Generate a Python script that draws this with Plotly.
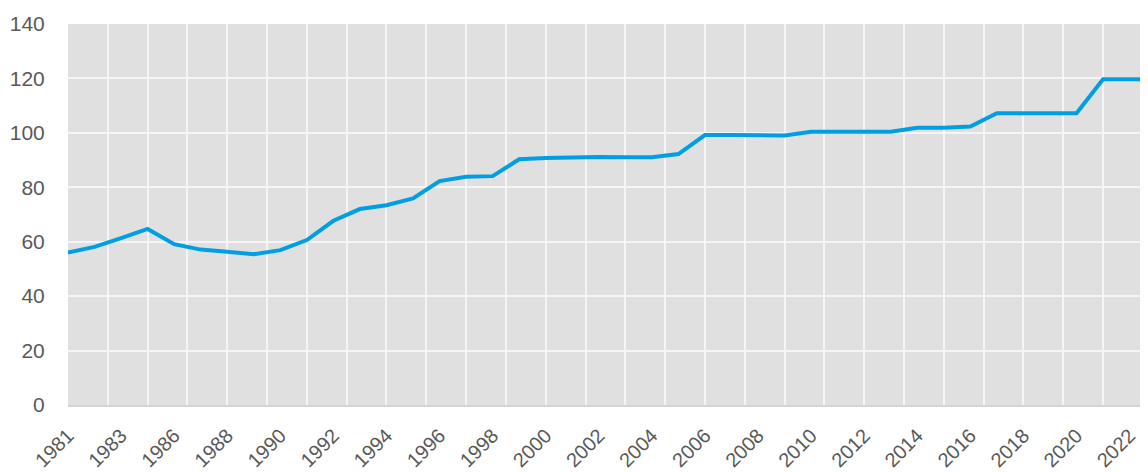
import plotly.graph_objects as go

years = ["1981", "1982", "1983", "1985", "1986", "1987", "1988", "1989", "1990",
         "1991", "1992", "1993", "1994", "1995", "1996", "1997", "1998", "1999",
         "2000", "2001", "2002", "2003", "2004", "2005", "2006", "2007", "2008",
         "2009", "2010", "2011", "2012", "2013", "2014", "2015", "2016", "2017",
         "2018", "2019", "2020", "2021", "2022", "2023"]
values = [56.0, 58.1, 61.3, 64.7, 59.1, 57.1, 56.3, 55.4, 56.9,
          60.6, 67.7, 72.0, 73.4, 75.9, 82.3, 83.9, 84.1, 90.3,
          90.8, 91.1, 91.1, 91.0, 91.0, 92.2, 99.2, 99.2, 99.0,
          99.0, 100.4, 100.4, 100.4, 100.4, 101.9, 101.9, 102.3, 107.2,
          107.2, 107.2, 107.2, 119.7, 119.7, 119.7]
tick_labels = years[::2]
y_ticks = [0, 20, 40, 60, 80, 100, 120, 140]

# page body has an 8px default margin, so the figure is offset by 8px
W, H = 1148, 465
L, R, T, B = 60, 8, 16, 68
cat_px = 26.54
x_max = (W - L - R) / cat_px

fig = go.Figure()
fig.add_trace(go.Scatter(
    x=years, y=values, mode="lines",
    line=dict(color="#009FE3", width=4),
    hoverinfo="x+y", showlegend=False, cliponaxis=True,
))

font_col = "#595959"
fig.update_layout(
    width=W, height=H,
    margin=dict(l=L, r=R, t=T, b=B, autoexpand=False),
    paper_bgcolor="white",
    plot_bgcolor="#E0E0E0",
    font=dict(family="Liberation Sans, Arial, sans-serif", size=21, color=font_col),
    xaxis=dict(
        type="category",
        range=[0, x_max],
        automargin=False,
        tickmode="array", tickvals=tick_labels, ticktext=tick_labels,
        tickangle=-45,
        showgrid=False, zeroline=False,
        showline=True, linecolor="#D4D4D4", linewidth=2,
        ticks="outside", ticklen=9, tickcolor="rgba(0,0,0,0)",
        tickfont=dict(size=20, color=font_col),
    ),
    xaxis2=dict(
        overlaying="x",
        range=[0, x_max],
        automargin=False,
        tick0=0, dtick=1.5,
        showgrid=True, gridcolor="#F5F5F5", gridwidth=1.5,
        showticklabels=False, zeroline=False, showline=False, ticks="",
    ),
    yaxis=dict(
        range=[0, 140],
        automargin=False,
        tickmode="array", tickvals=y_ticks,
        showgrid=True, gridcolor="#F5F5F5", gridwidth=1.5,
        zeroline=False, showline=False,
        ticks="outside", ticklen=18, tickcolor="rgba(0,0,0,0)",
        tickfont=dict(size=21, color=font_col),
    ),
)
# invisible helper trace so the gridline axis (xaxis2) is rendered
fig.add_trace(go.Scatter(x=[0], y=[0], xaxis="x2", mode="markers",
                         marker=dict(opacity=0), hoverinfo="skip", showlegend=False))

fig.write_html("out.html")
